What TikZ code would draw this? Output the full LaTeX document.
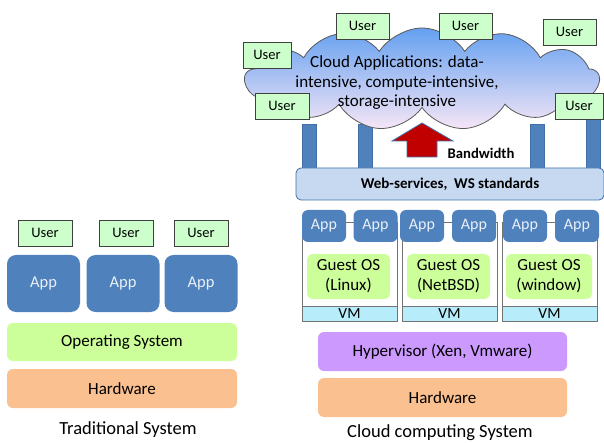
\documentclass[tikz,border=0pt]{standalone}
\usepackage{fontspec}
\setmainfont{Carlito}
\usetikzlibrary{shapes.symbols}
\definecolor{appblue}{RGB}{79,129,189}
\definecolor{appborder}{RGB}{65,110,165}
\definecolor{usergreen}{RGB}{204,255,204}
\definecolor{osgreen}{RGB}{204,255,153}
\definecolor{hwor}{RGB}{250,192,144}
\definecolor{hyper}{RGB}{204,153,255}
\definecolor{wsblue}{RGB}{198,217,241}
\definecolor{vmcyan}{RGB}{183,236,251}
\definecolor{cloudtop}{RGB}{100,160,240}
\definecolor{cloudbot}{RGB}{246,230,246}
\definecolor{arrowred}{RGB}{192,0,0}
\tikzset{
  userbox/.style={draw=black!75, fill=usergreen, line width=0.6pt, minimum width=54pt, minimum height=26pt, inner sep=0pt, font=\fontsize{14.5}{17}\selectfont},
  appbig/.style={fill=appblue, rounded corners=9pt, minimum width=73pt, minimum height=57pt, inner sep=0pt, text=white!88!appblue, font=\fontsize{16.5}{19}\selectfont},
  appsmall/.style={fill=appblue, rounded corners=6pt, minimum width=44pt, minimum height=32pt, inner sep=0pt, text=white!88!appblue, font=\fontsize{16}{19}\selectfont},
  layer/.style={rounded corners=6pt, minimum height=39pt, inner sep=0pt, font=\fontsize{17}{20}\selectfont},
  guestos/.style={fill=osgreen, rounded corners=6pt, minimum height=45pt, inner sep=0pt, align=center, font=\fontsize{17}{20}\selectfont},
  vmbox/.style={draw=black!55, fill=white, line width=0.6pt},
  vmbar/.style={draw=black!55, fill=vmcyan, line width=0.6pt, inner sep=0pt, font=\fontsize{15.5}{17}\selectfont},
  pillar/.style={draw=appborder, fill=appblue, line width=0.6pt},
  caption/.style={font=\fontsize{18.5}{21}\selectfont},
}
\begin{document}
\begin{tikzpicture}[x=1pt,y=-1pt]
\useasboundingbox (0,0) rectangle (604,443);
% ---------------- Traditional system ----------------
\node[userbox] (tu1) at (45,233) {User};
\node[userbox] (tu2) at (126,233) {User};
\node[userbox] (tu3) at (201,233) {User};
\node[appbig] (ta1) at (43.5,283.5) {App};
\node[appbig] (ta2) at (123,283.5) {App};
\node[appbig] (ta3) at (201,283.5) {App};
\node[layer, fill=osgreen, minimum width=230pt, minimum height=38pt] (tos) at (122,342) {Operating System};
\node[layer, fill=hwor, minimum width=230pt] (thw) at (122,388.5) {Hardware};
\node[caption] (tcap) at (128,430) {Traditional System};
% ---------------- Cloud system ----------------
% pillars
\draw[pillar] (302,124) rectangle (316,168);
\draw[pillar] (358,124) rectangle (372,168);
\draw[pillar] (530,124) rectangle (544,168);
\draw[pillar] (586,118) rectangle (600,168);
% cloud
\node[cloud, cloud puffs=13, cloud puff arc=115, aspect=3.6, draw=black!65, line width=0.8pt,
      top color=cloudtop, bottom color=cloudbot, minimum width=354pt, minimum height=102pt, inner sep=0pt] (cloud) at (422,79) {};
\node[align=center, font=\fontsize{17}{19.5}\selectfont] (ctext) at (397,83) {Cloud Applications: data-\\intensive, compute-intensive,\\storage-intensive};
% users around cloud
\node[userbox, minimum width=53pt] (cu1) at (362.5,26) {User};
\node[userbox, minimum width=53pt] (cu2) at (465.5,26) {User};
\node[userbox, minimum width=53pt] (cu3) at (569.5,32) {User};
\node[userbox, minimum width=48pt] (cu4) at (267,55) {User};
\node[userbox, minimum width=54pt] (cu5) at (282,106) {User};
\node[userbox, minimum width=48pt] (cu6) at (579,106) {User};
% bandwidth arrow
\draw[fill=arrowred, draw=appborder, line width=0.8pt, line join=miter]
  (407,157) -- (407,141) -- (392,141) -- (422,123) -- (453,141) -- (437,141) -- (437,157) -- cycle;
\node[font=\bfseries\fontsize{14.7}{17}\selectfont] (bw) at (481,153) {Bandwidth};
% web services
\node[draw=appborder, fill=wsblue, rounded corners=5pt, line width=0.8pt, minimum width=308pt, minimum height=32pt, inner sep=0pt,
      font=\bfseries\fontsize{15}{17}\selectfont] (ws) at (450,184) {Web-services,\ \ WS standards};
% VM containers
\draw[vmbox] (302,222) rectangle (397,321);
\draw[vmbox] (402,222) rectangle (497,321);
\draw[vmbox] (502,222) rectangle (597,321);
\node[vmbar, minimum width=95pt, minimum height=15pt] (vm1) at (349.5,313.5) {VM};
\node[vmbar, minimum width=95pt, minimum height=15pt] (vm2) at (449.5,313.5) {VM};
\node[vmbar, minimum width=95pt, minimum height=15pt] (vm3) at (549.5,313.5) {VM};
\node[appsmall] (a1) at (324,226) {App};
\node[appsmall] (a2) at (375.5,226) {App};
\node[appsmall] (a3) at (422,226) {App};
\node[appsmall] (a4) at (474,226) {App};
\node[appsmall] (a5) at (525,226) {App};
\node[appsmall] (a6) at (577,226) {App};
\node[guestos, minimum width=83pt] (g1) at (348.5,276.5) {Guest OS\\(Linux)};
\node[guestos, minimum width=83pt] (g2) at (448.5,276.5) {Guest OS\\(NetBSD)};
\node[guestos, minimum width=86pt] (g3) at (549,276.5) {Guest OS\\(window)};
% hypervisor & hardware
\node[layer, fill=hyper, minimum width=249pt] (hyp) at (442.5,351.5) {Hypervisor (Xen, Vmware)};
\node[layer, fill=hwor, minimum width=249pt] (chw) at (442.5,397.5) {Hardware};
\node[caption] (ccap) at (440,433) {Cloud computing System};
\end{tikzpicture}
\end{document}
